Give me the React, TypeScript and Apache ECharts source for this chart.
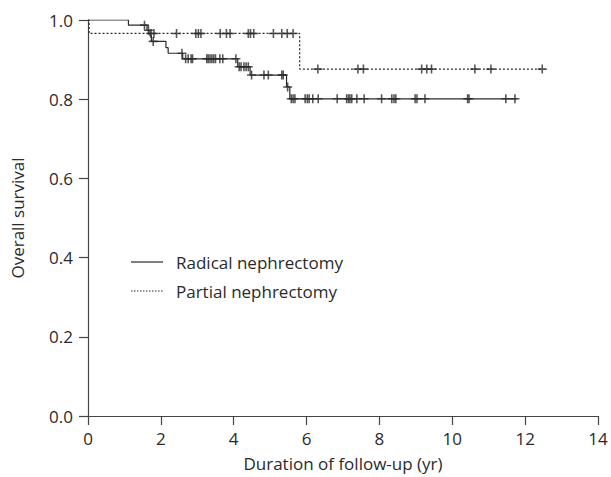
import React, { useEffect, useRef } from "react";
import * as echarts from "echarts";

// Kaplan–Meier steps (time in years, survival)
const radicalSteps: [number, number][] = [
  [0, 1.0], [1.11, 0.987], [1.62, 0.974], [1.7, 0.96], [1.74, 0.946],
  [2.14, 0.93], [2.2, 0.916], [2.6, 0.902], [4.11, 0.882], [4.45, 0.861],
  [5.45, 0.831], [5.54, 0.801], [11.78, 0.801],
];
const partialSteps: [number, number][] = [
  [0, 1.0], [0.03, 0.966], [5.81, 0.876], [12.47, 0.876],
];
// censored observations
const radicalCensored: [number, number][] = [
  [1.55, 0.987], [1.66, 0.974], [1.79, 0.946], [2.58, 0.916],
  [2.68, 0.902], [2.75, 0.902], [2.83, 0.902], [2.87, 0.902],
  [3.26, 0.902], [3.3, 0.902], [3.35, 0.902], [3.4, 0.902], [3.45, 0.902], [3.5, 0.902],
  [3.62, 0.902], [3.7, 0.902], [4.06, 0.902],
  [4.15, 0.882], [4.2, 0.882], [4.28, 0.882], [4.34, 0.882], [4.4, 0.882],
  [4.49, 0.861], [4.83, 0.861], [4.95, 0.861], [5.32, 0.861], [5.36, 0.861],
  [5.48, 0.831],
  [5.58, 0.801], [5.63, 0.801], [5.68, 0.801], [5.96, 0.801], [6.02, 0.801], [6.07, 0.801],
  [6.17, 0.801], [6.32, 0.801], [6.84, 0.801], [7.1, 0.801], [7.15, 0.801], [7.19, 0.801],
  [7.24, 0.801], [7.38, 0.801], [7.58, 0.801], [8.06, 0.801], [8.34, 0.801], [8.4, 0.801],
  [8.45, 0.801], [8.98, 0.801], [9.03, 0.801], [9.25, 0.801], [10.42, 0.801], [10.46, 0.801],
  [11.47, 0.801], [11.72, 0.801],
];
const partialCensored: [number, number][] = [
  [1.73, 0.966], [1.81, 0.966], [2.43, 0.966], [2.96, 0.966], [3.03, 0.966], [3.1, 0.966],
  [3.63, 0.966], [3.8, 0.966], [3.9, 0.966], [4.4, 0.966], [4.46, 0.966], [4.55, 0.966],
  [5.09, 0.966], [5.32, 0.966], [5.47, 0.966], [5.63, 0.966],
  [6.31, 0.876], [7.41, 0.876], [7.56, 0.876], [9.16, 0.876], [9.3, 0.876], [9.43, 0.876],
  [10.62, 0.876], [11.06, 0.876], [12.47, 0.876],
];
const seriesNames = ["Radical nephrectomy", "Partial nephrectomy"];
const xTicks = [0, 2, 4, 6, 8, 10, 12, 14];
const yTicks = [0, 0.2, 0.4, 0.6, 0.8, 1.0];

const FONT = "'Open Sans', sans-serif";
const FS = 17;
const INK = "#2a2a2a";
const AXIS = "#444";
const PLUS = "path://M3.3,0H4.7V3.3H8V4.7H4.7V8H3.3V4.7H0V3.3H3.3Z";

export default function App() {
  const ref = useRef<HTMLDivElement>(null);
  useEffect(() => {
    if (!ref.current) return;
    const chart = echarts.init(ref.current, null, { renderer: "svg" });
    chart.setOption({
      animation: false,
      backgroundColor: "#fff",
      grid: { left: 88, right: 13, top: 20, bottom: 60 },
      graphic: [
        {
          type: "line",
          shape: { x1: 131, y1: 262, x2: 163, y2: 262 },
          style: { stroke: INK, lineWidth: 1.2 },
        },
        {
          type: "text",
          x: 176,
          y: 262,
          style: { text: seriesNames[0], font: `${FS}px 'Open Sans', sans-serif`, fill: INK, verticalAlign: "middle" },
        },
        {
          type: "line",
          shape: { x1: 131, y1: 291, x2: 163, y2: 291 },
          style: { stroke: INK, lineWidth: 1.1, lineDash: [1.5, 1.5] },
        },
        {
          type: "text",
          x: 176,
          y: 291,
          style: { text: seriesNames[1], font: `${FS}px 'Open Sans', sans-serif`, fill: INK, verticalAlign: "middle" },
        },
      ],
      xAxis: {
        type: "value",
        min: xTicks[0],
        max: xTicks[xTicks.length - 1],
        interval: 2,
        name: "Duration of follow-up (yr)",
        nameLocation: "middle",
        nameGap: 39,
        nameTextStyle: { fontFamily: FONT, fontSize: FS, color: INK },
        axisLine: { lineStyle: { color: AXIS, width: 1.2 } },
        axisTick: { length: 9, lineStyle: { color: AXIS, width: 1.2 } },
        axisLabel: { fontFamily: FONT, fontSize: FS, color: INK, margin: 14 },
        splitLine: { show: false },
      },
      yAxis: {
        type: "value",
        min: yTicks[0],
        max: yTicks[yTicks.length - 1],
        interval: 0.2,
        name: "Overall survival",
        nameLocation: "middle",
        nameGap: 62,
        nameTextStyle: { fontFamily: FONT, fontSize: FS, color: INK },
        axisLine: { show: true, lineStyle: { color: AXIS, width: 1.2 } },
        axisTick: { show: true, length: 9, lineStyle: { color: AXIS, width: 1.2 } },
        axisLabel: {
          fontFamily: FONT, fontSize: FS, color: INK, margin: 15,
          formatter: (v: number) => v.toFixed(1),
        },
        splitLine: { show: false },
      },
      series: [
        {
          name: seriesNames[0],
          type: "line",
          step: "end",
          symbol: "none",
          data: radicalSteps,
          lineStyle: { color: INK, width: 1.2, type: "solid" },
          itemStyle: { color: INK },
        },
        {
          name: seriesNames[1],
          type: "line",
          step: "end",
          symbol: "none",
          data: partialSteps,
          lineStyle: { color: INK, width: 1.2, type: [2, 2] },
          itemStyle: { color: INK },
        },
        {
          name: "radical-censored",
          type: "scatter",
          symbol: PLUS,
          symbolSize: 9,
          data: radicalCensored,
          itemStyle: { color: INK },
        },
        {
          name: "partial-censored",
          type: "scatter",
          symbol: PLUS,
          symbolSize: 9,
          data: partialCensored,
          itemStyle: { color: INK },
        },
      ],
    });
    return () => chart.dispose();
  }, []);
  return (
    <div
      ref={ref}
      style={{ position: "absolute", left: 0, top: 0, width: 611, height: 477 }}
    />
  );
}
